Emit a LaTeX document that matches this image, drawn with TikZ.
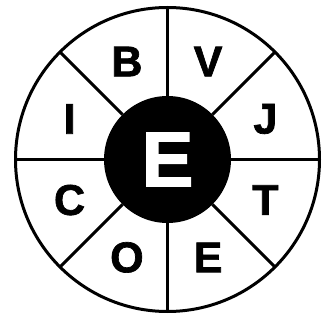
\documentclass[tikz,border=0pt]{standalone}
\usepackage{fontspec}
\setmainfont{Liberation Sans}
\newfontfamily\heavyfont[FakeBold=1.6]{Liberation Sans Bold}
\usetikzlibrary{calc}
\begin{document}
\begin{tikzpicture}[x=1pt,y=1pt,
  ring/.style={circle,draw=black,line width=3pt,outer sep=0pt,inner sep=0pt},
  spoke/.style={line width=3pt},
  letter/.style={font=\fontsize{43}{43}\heavyfont,inner sep=0pt}]
\useasboundingbox (0,0) rectangle (324,327);
\node[ring,minimum size=304pt] (outer) at (167.5,167.5) {};
\node[circle,fill=black,minimum size=127pt,inner sep=0pt,outer sep=0pt] (hub) at (167.5,167.5) {};
\node[font=\fontsize{78}{78}\heavyfont,text=white,inner sep=0pt] (centerE) at (hub) {E};
\foreach \a in {0,45,...,315} {
  \draw[spoke] (hub.\a) -- (outer.\a);
}
\node[letter] (B) at ($(167.5,167.5)+(112.5:106)$) {B};
\node[letter] (V) at ($(167.5,167.5)+(67.5:106)$) {V};
\node[letter] (J) at ($(167.5,167.5)+(22.5:106)$) {J};
\node[letter] (T) at ($(167.5,167.5)+(-22.5:106)$) {T};
\node[letter] (E2) at ($(167.5,167.5)+(-67.5:106)$) {E};
\node[letter] (O) at ($(167.5,167.5)+(-112.5:106)$) {O};
\node[letter] (C) at ($(167.5,167.5)+(-157.5:106)$) {C};
\node[letter] (I) at ($(167.5,167.5)+(157.5:106)$) {I};
\end{tikzpicture}
\end{document}
